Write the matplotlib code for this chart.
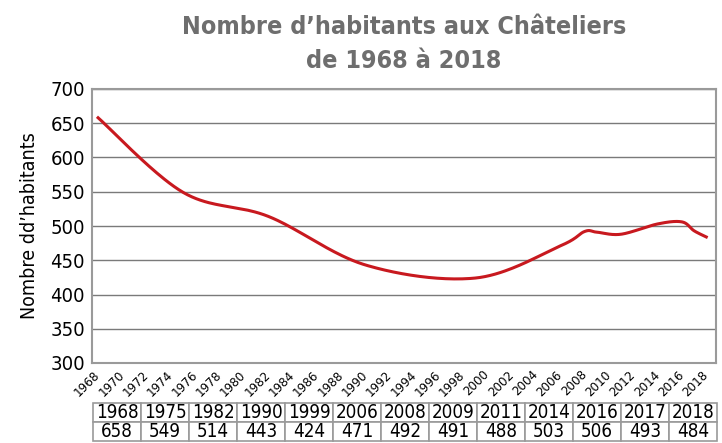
import numpy as np
import matplotlib
matplotlib.use('Agg')
import matplotlib.pyplot as plt
from matplotlib.transforms import ScaledTranslation

# data (recensements)
annees = [1968, 1975, 1982, 1990, 1999, 2006, 2008, 2009, 2011, 2014, 2016, 2017, 2018]
habitants = [658, 549, 514, 443, 424, 471, 492, 491, 488, 503, 506, 493, 484]
ticks_x = list(range(1968, 2019, 2))
ticks_y = list(range(300, 701, 50))

titre = "Nombre d\u2019habitants aux Châteliers\nde 1968 à 2018"
label_y = "Nombre dd\u2019habitants"

plt.rcParams['font.family'] = ['DejaVu Sans']
plt.rcParams['font.stretch'] = 'condensed'

def lissage(xs, ys, n=40):
    # courbe lissee facon tableur (bezier, tangentes catmull-rom)
    xs = np.asarray(xs, float)
    ys = np.asarray(ys, float)
    N = len(xs)
    ox, oy = [], []
    t = np.linspace(0, 1, n)
    for i in range(N - 1):
        i0 = max(i - 1, 0)
        i3 = min(i + 2, N - 1)
        p0 = np.array([xs[i], ys[i]])
        p3 = np.array([xs[i + 1], ys[i + 1]])
        c1 = p0 + (np.array([xs[i + 1], ys[i + 1]]) - np.array([xs[i0], ys[i0]])) / 6
        c2 = p3 - (np.array([xs[i3], ys[i3]]) - np.array([xs[i], ys[i]])) / 6
        b = ((1 - t) ** 3)[:, None] * p0 + (3 * (1 - t) ** 2 * t)[:, None] * c1 \
            + (3 * (1 - t) * t ** 2)[:, None] * c2 + (t ** 3)[:, None] * p3
        ox.extend(b[:, 0])
        oy.extend(b[:, 1])
    return np.array(ox), np.array(oy)

fig = plt.figure(figsize=(7.22, 4.43), dpi=100)
ax = fig.add_axes([92 / 722, 1 - 363 / 443, (716 - 92) / 722, (363 - 89) / 443])

sx, sy = lissage(annees, habitants)
ax.plot(sx, sy, color='#c8191f', lw=2.2, zorder=3)

ax.set_xlim(1967.5, 2018.8)
ax.set_ylim(300, 700)
ax.set_yticks(ticks_y)
ax.set_xticks(ticks_x)
ax.set_xticklabels([str(a) for a in ticks_x], rotation=45, fontsize=9.5,
                   ha='right', va='center', rotation_mode='anchor')
decal = ScaledTranslation(5 / 100, 0, fig.dpi_scale_trans)
for lab in ax.get_xticklabels():
    lab.set_transform(lab.get_transform() + decal)
ax.tick_params(axis='x', length=0, pad=7)
ax.tick_params(axis='y', length=0, pad=5, labelsize=14.5)
ax.yaxis.grid(True, color='#7a7a7a', lw=1)
ax.set_axisbelow(True)
for s in ax.spines.values():
    s.set_color('#9a9a9a')
    s.set_linewidth(1.5)
ax.set_ylabel(label_y, fontsize=14, labelpad=8)

fig.text(404 / 722, 1 - 44 / 443, titre, ha='center', va='center',
         fontsize=18, fontweight='bold', color='#6e6e6e', linespacing=1.55)

# tableau des valeurs
tax = fig.add_axes([93 / 722, 1 - 441 / 443, (717 - 93) / 722, 38 / 443])
tax.axis('off')
cells = [[str(a) for a in annees], [str(h) for h in habitants]]
tab = tax.table(cellText=cells, bbox=[0, 0, 1, 1], cellLoc='center')
tab.auto_set_font_size(False)
tab.set_fontsize(13.5)
for key, c in tab.get_celld().items():
    c.set_edgecolor('#9a9a9a')
    c.set_linewidth(1.2)

fig.savefig('out.png', dpi=100)
